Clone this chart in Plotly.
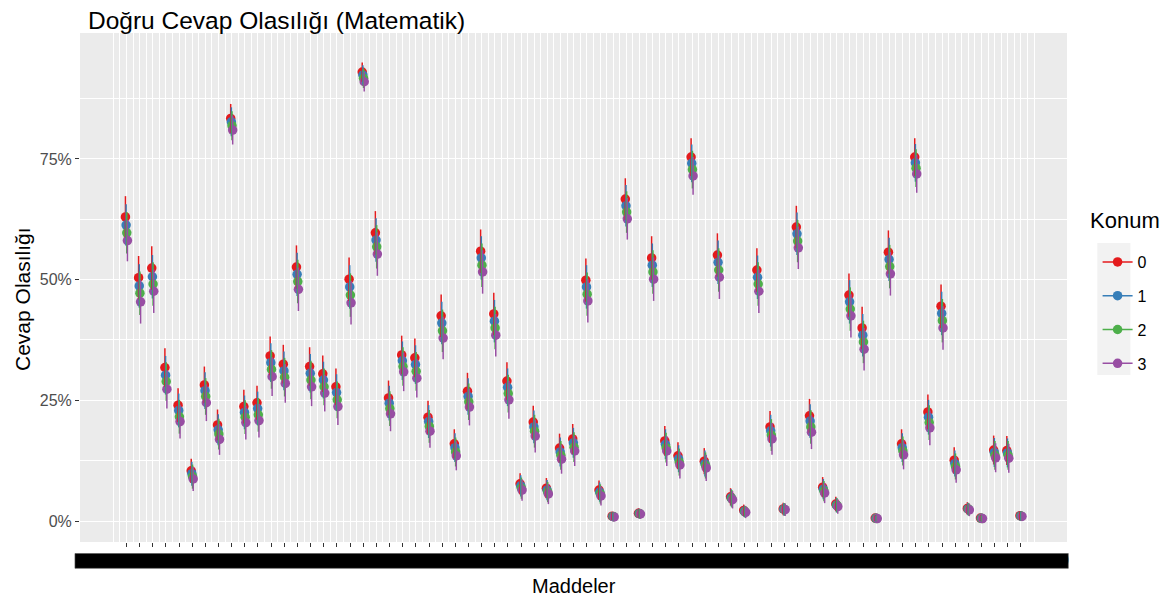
import numpy as np
import plotly.graph_objects as go

# ---------------- data (percent) ----------------
items = [f"Matematik {i:02d}" for i in range(1, 70)]

konum_0 = [63.0, 50.4, 52.4, 31.8, 24.0, 10.4, 28.2, 19.9, 83.4, 23.7,
           24.5, 34.2, 32.5, 52.6, 32.0, 30.5, 27.8, 50.1, 93.0, 59.7,
           25.5, 34.4, 33.8, 21.5, 42.5, 16.0, 26.9, 55.9, 42.9, 29.0,
           7.7, 20.5, 6.8, 15.1, 17.0, 49.9, 6.4, 1.0, 66.7, 1.6,
           54.5, 16.6, 13.5, 75.4, 12.4, 55.1, 5.0, 2.2, 52.0, 19.5,
           2.5, 60.9, 21.8, 7.0, 3.5, 46.8, 40.0, 0.6, 55.7, 16.0,
           75.4, 22.6, 44.5, 12.6, 2.6, 0.6, 14.7, 14.6, 1.1]
konum_1 = [61.3, 48.7, 50.6, 30.2, 22.9, 9.8, 27.0, 18.9, 82.7, 22.5,
           23.3, 32.8, 31.1, 51.1, 30.6, 29.2, 26.6, 48.5, 92.4, 58.2,
           24.4, 33.2, 32.4, 20.6, 41.0, 15.2, 25.8, 54.5, 41.4, 27.7,
           7.3, 19.5, 6.4, 14.3, 16.2, 48.5, 6.0, 0.95, 65.3, 1.55,
           53.0, 15.9, 12.9, 74.1, 11.9, 53.6, 4.8, 2.0, 50.5, 18.7,
           2.45, 59.5, 20.7, 6.6, 3.3, 45.4, 38.5, 0.55, 54.2, 15.2,
           74.2, 21.5, 43.0, 11.9, 2.5, 0.55, 14.2, 14.1, 1.05]
konum_2 = [59.7, 47.2, 49.1, 28.9, 21.6, 9.2, 25.8, 18.0, 81.9, 21.5,
           22.0, 31.4, 29.8, 49.6, 29.2, 27.8, 25.1, 46.8, 91.7, 56.8,
           23.3, 32.0, 31.0, 19.6, 39.4, 14.3, 24.7, 53.0, 40.0, 26.4,
           6.8, 18.6, 6.0, 13.6, 15.3, 47.0, 5.6, 0.9, 64.0, 1.5,
           51.6, 15.2, 12.2, 72.8, 11.5, 52.0, 4.6, 1.9, 49.1, 17.8,
           2.4, 58.0, 19.5, 6.2, 3.2, 43.9, 37.1, 0.5, 52.7, 14.5,
           73.1, 20.4, 41.5, 11.3, 2.4, 0.5, 13.6, 13.6, 1.0]
konum_3 = [58.1, 45.4, 47.6, 27.3, 20.6, 8.7, 24.5, 16.9, 81.0, 20.4,
           20.8, 29.9, 28.5, 48.0, 27.8, 26.5, 23.7, 45.2, 91.0, 55.3,
           22.2, 30.9, 29.6, 18.6, 37.9, 13.5, 23.6, 51.6, 38.5, 25.1,
           6.4, 17.6, 5.6, 12.8, 14.5, 45.6, 5.2, 0.85, 62.6, 1.45,
           50.1, 14.5, 11.6, 71.5, 11.0, 50.5, 4.4, 1.8, 47.6, 17.0,
           2.35, 56.6, 18.4, 5.8, 3.0, 42.5, 35.6, 0.5, 51.2, 13.7,
           71.9, 19.3, 40.0, 10.6, 2.3, 0.5, 13.1, 13.0, 0.95]
# half-width of the interval (percent points), read per item
err = [4.3, 4.5, 4.5, 4.0, 3.5, 2.5, 3.8, 3.2, 3.0, 3.5,
       3.5, 4.0, 4.0, 4.5, 4.0, 3.8, 3.8, 4.5, 2.0, 4.5,
       3.6, 4.0, 4.0, 3.4, 4.4, 3.0, 3.8, 4.5, 4.4, 3.9,
       2.2, 3.4, 2.1, 3.0, 3.1, 4.5, 2.0, 0.8, 4.3, 1.0,
       4.5, 3.1, 2.8, 3.9, 2.7, 4.5, 1.8, 1.2, 4.5, 3.3,
       1.3, 4.4, 3.5, 2.1, 1.5, 4.5, 4.4, 0.6, 4.5, 3.0,
       3.9, 3.6, 4.5, 2.7, 1.3, 0.6, 3.0, 3.0, 0.9]

konum_labels = ["0", "1", "2", "3"]
series = [konum_0, konum_1, konum_2, konum_3]
colors = ["#E41A1C", "#377EB8", "#4DAF4A", "#984EA3"]

y_tick_vals = [0, 25, 50, 75]
y_tick_text = ["0%", "25%", "50%", "75%"]

# ---------------- figure ----------------
FONT = "Liberation Sans, Arial, sans-serif"
x_pos = np.arange(1, len(items) + 1)
dodge = [-0.075, -0.025, 0.025, 0.075]

fig = go.Figure()

# points
for k, vals in enumerate(series):
    fig.add_trace(go.Scatter(
        x=x_pos + dodge[k], y=vals, mode="markers",
        marker=dict(color=colors[k], size=9.5, line=dict(width=0)),
        showlegend=False, hoverinfo="skip"))

# interval lines drawn on top of the points
for k, vals in enumerate(series):
    fig.add_trace(go.Scatter(
        x=x_pos + dodge[k], y=vals, mode="markers",
        marker=dict(color=colors[k], size=2, opacity=0),
        error_y=dict(type="data", array=err, symmetric=True,
                     color=colors[k], thickness=1.5, width=0),
        showlegend=False, hoverinfo="skip"))

# legend entries
for k in range(4):
    fig.add_trace(go.Scatter(
        x=[None], y=[None], mode="lines+markers", name=konum_labels[k],
        legendgroup=konum_labels[k],
        line=dict(color=colors[k], width=1.5),
        marker=dict(color=colors[k], size=9.5)))

W, H = 1175, 599
fig.update_layout(
    width=W, height=H,
    margin=dict(l=80, r=108, t=33, b=57, autoexpand=False),
    paper_bgcolor="white", plot_bgcolor="#EBEBEB",
    font=dict(family=FONT, color="black"),
    title=dict(text="Doğru Cevap Olasılığı (Matematik)",
               font=dict(size=24.5, color="black", family=FONT),
               x=0.0081, xref="paper", xanchor="left",
               y=1 - 20 / H, yref="container", yanchor="middle"),
    showlegend=True,
    legend=dict(font=dict(size=16, color="black"),
                x=1.031, xanchor="left", y=0.5835, yanchor="top",
                bgcolor="rgba(0,0,0,0)", tracegroupgap=10),
    shapes=[
        # legend key background
        dict(type="rect", xref="paper", yref="paper",
             x0=1.0307, x1=1.0642, y0=0.328, y1=0.5874,
             fillcolor="#F2F2F2", line=dict(width=0), layer="below"),
        # band behind the overlapping x tick labels
        dict(type="rect", xref="paper", yref="paper",
             x0=-0.0051, x1=1.0013, y0=-0.0517, y1=-0.0226,
             fillcolor="black", line=dict(width=0.6, color="#555555"),
             layer="below"),
    ],
    annotations=[
        dict(text="Konum", xref="paper", yref="paper", x=1.0216, y=0.6326,
             xanchor="left", yanchor="middle", showarrow=False,
             font=dict(size=22, color="black", family=FONT)),
        # y axis title
        dict(text="Cevap Olasılığı", xref="paper", yref="paper",
             x=-(80 - 22) / 986.7, y=(542 - 299) / 509, textangle=-90,
             xanchor="center", yanchor="middle", showarrow=False,
             font=dict(size=21, color="black", family=FONT)),
        # x axis title
        dict(text="Maddeler", xref="paper", yref="paper",
             x=0.5, y=-(586 - 542) / 509,
             xanchor="center", yanchor="middle", showarrow=False,
             font=dict(size=20, color="black", family=FONT)),
    ],
    xaxis=dict(
        range=[-2.53, 72.5], tickmode="array", tickvals=list(x_pos),
        ticktext=items, tickangle=0,
        tickfont=dict(size=16, color="black", family=FONT),
        ticks="outside", ticklen=4, tickwidth=1.3, tickcolor="#333333",
        showgrid=True, gridcolor="white", gridwidth=1.1,
        minor=dict(tickvals=list(np.arange(0, 70.01, 0.5)), showgrid=True,
                   gridcolor="white", gridwidth=0.9, ticks=""),
        zeroline=False, showline=False, automargin=False),
    yaxis=dict(
        range=[-4.35, 101.1], tickmode="array", tickvals=y_tick_vals,
        ticktext=y_tick_text,
        tickfont=dict(size=16, color="#4D4D4D", family=FONT),
        ticks="outside", ticklen=4, tickwidth=1.3, tickcolor="#333333",
        showgrid=True, gridcolor="white", gridwidth=1.4,
        minor=dict(tickvals=[12.5, 37.5, 62.5, 87.5], showgrid=True,
                   gridcolor="white", gridwidth=0.7, ticks=""),
        zeroline=False, showline=False, automargin=False),
)

fig.write_html(
    "out.html",
    config={"displayModeBar": False},
    post_script="document.body.style.margin='0';"
                "document.body.style.overflow='hidden';")
